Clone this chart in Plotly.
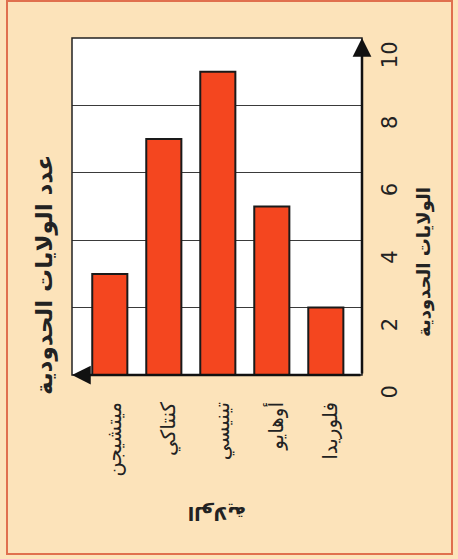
import plotly.graph_objects as go

# Bordering-state counts per state
states = ["ميتشيجن", "كنتاكي", "تينيسي", "أوهايو", "فلوريدا"]
border_counts = [3, 7, 9, 5, 2]
value_ticks = [0, 2, 4, 6, 8, 10]

chart_title = "عدد الولايات الحدودية"
value_title = "الولايات الحدودية"
category_title = "الولاية"

W, H = 458, 559
L, R, T, B = 72, 96, 38, 184
PW, PH = W - L - R, H - T - B


def px(x):
    return (x - L) / PW


def py(y):
    return (H - B - y) / PH


BG = "#FCE3BA"
BAR = "#F4461F"
FONT = "DejaVu Sans"

fig = go.Figure()
fig.add_trace(go.Bar(
    x=list(range(len(states))),
    y=border_counts,
    width=0.65,
    marker=dict(color=BAR, line=dict(color="#1a1a1a", width=2)),
    hoverinfo="skip",
))

fig.update_layout(
    width=W, height=H,
    margin=dict(l=L, r=R, t=T, b=B),
    paper_bgcolor=BG,
    plot_bgcolor="white",
    showlegend=False,
    xaxis=dict(
        range=[-0.7, 4.67],
        tickmode="array",
        tickvals=list(range(len(states))),
        ticktext=states,
        tickangle=-90,
        tickfont=dict(family=FONT, size=20, color="#222"),
        ticklabelstandoff=22,
        ticklabelshift=5,
        showgrid=False,
        zeroline=False,
        showline=False,
        ticks="",
    ),
    yaxis=dict(
        range=[0, 10],
        side="right",
        tickvals=value_ticks,
        tickangle=-90,
        tickfont=dict(family=FONT, size=21, color="#222"),
        ticklabelstandoff=13,
        ticklabelshift=20,
        showgrid=True,
        gridcolor="#3a3a3a",
        gridwidth=1,
        zeroline=False,
        showline=False,
        ticks="",
    ),
)

# plot frame (thin top/left edges)
fig.add_shape(type="rect", xref="paper", yref="paper", x0=0, y0=0, x1=1, y1=1,
              line=dict(color="#222", width=1.5), layer="above")

# outer orange page frame
fig.add_shape(type="rect", xref="paper", yref="paper",
              x0=px(7), x1=px(452), y0=py(554), y1=py(1),
              line=dict(color="#E0704E", width=2), layer="below")

# axis arrows
fig.add_annotation(x=1, y=1, ax=1, ay=0, xref="x domain", yref="y domain",
                   axref="x domain", ayref="y domain", text="", showarrow=True,
                   arrowhead=2, arrowsize=1.5, arrowwidth=2.5, arrowcolor="#111")
fig.add_annotation(x=0, y=0, ax=1, ay=0, xref="x domain", yref="y domain",
                   axref="x domain", ayref="y domain", text="", showarrow=True,
                   arrowhead=2, arrowsize=1.5, arrowwidth=2.5, arrowcolor="#111")

# titles
title_kw = dict(xref="paper", yref="paper", showarrow=False,
                xanchor="center", yanchor="middle")
fig.add_annotation(x=px(44), y=py(275), text=f"<b>{chart_title}</b>", textangle=-90,
                   font=dict(family=FONT, size=23, color="#222"), **title_kw)
fig.add_annotation(x=px(424), y=py(262), text=f"<b>{value_title}</b>", textangle=-90,
                   font=dict(family=FONT, size=18, color="#222"), **title_kw)
fig.add_annotation(x=px(217), y=py(514), text=f"<b>{category_title}</b>", textangle=180,
                   font=dict(family=FONT, size=19, color="#222"), **title_kw)

fig.write_html("out.html")
